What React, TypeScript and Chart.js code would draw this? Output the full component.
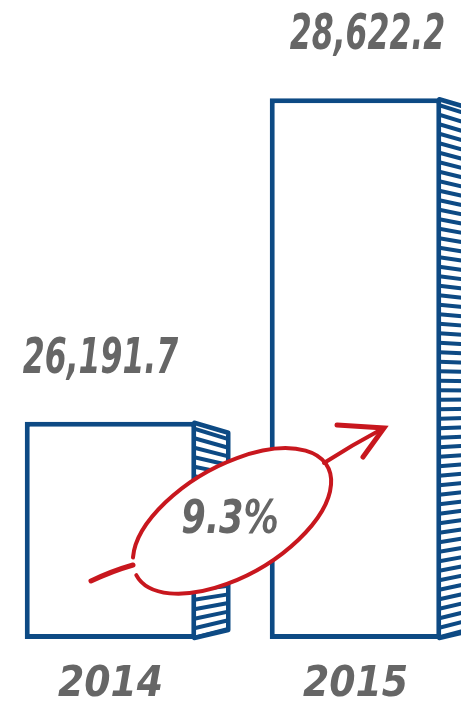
import React, { useEffect, useRef } from "react";
import { Chart, registerables } from "chart.js";

Chart.register(...registerables);

const categories = ["2014", "2015"];
const values = [26191.7, 28622.2];
const yBounds = [24560, 29360];

const BLUE = "#0d4a84";
const RED = "#c8171e";
const GRAY = "#666666";
const FONT = "'DejaVu Sans Condensed', 'Liberation Sans Narrow', sans-serif";

const fmt = (v: number) =>
  v.toLocaleString("en-US", { minimumFractionDigits: 1, maximumFractionDigits: 1 });

const growth = (((values[1] - values[0]) / values[0]) * 100).toFixed(1) + "%";

const sidePlugin = {
  id: "sideHatch",
  afterDatasetsDraw(chart: any) {
    const ctx = chart.ctx as CanvasRenderingContext2D;
    const meta = chart.getDatasetMeta(0);
    meta.data.forEach((bar: any) => {
      const { x, y, width, base } = bar.getProps(["x", "y", "width", "base"], true);
      const r = x + width / 2 - 2;
      const d = 34;
      const dropTop = 11;
      const riseBot = 9;
      ctx.save();
      ctx.beginPath();
      ctx.moveTo(r, y);
      ctx.lineTo(r + d, y + dropTop);
      ctx.lineTo(r + d, base - riseBot);
      ctx.lineTo(r, base);
      ctx.closePath();
      ctx.save();
      ctx.clip();
      ctx.strokeStyle = BLUE;
      ctx.lineWidth = 4;
      const h = base - y;
      for (let yy = y + 7; yy < base; yy += 9.5) {
        const t = (yy - y) / h;
        const slope = dropTop * (1 - t) - riseBot * t;
        ctx.beginPath();
        ctx.moveTo(r, yy);
        ctx.lineTo(r + d, yy + slope);
        ctx.stroke();
      }
      ctx.restore();
      ctx.strokeStyle = BLUE;
      ctx.lineWidth = 4.5;
      ctx.lineJoin = "round";
      ctx.lineCap = "round";
      ctx.beginPath();
      ctx.moveTo(r, y + 1);
      ctx.lineTo(r + d, y + dropTop);
      ctx.lineTo(r + d, base - riseBot);
      ctx.lineTo(r, base - 1);
      ctx.stroke();
      ctx.restore();
    });
  },
};

const labelPlugin = {
  id: "valueLabels",
  afterDatasetsDraw(chart: any) {
    const ctx = chart.ctx as CanvasRenderingContext2D;
    const meta = chart.getDatasetMeta(0);
    ctx.save();
    ctx.fillStyle = GRAY;
    ctx.font = `italic bold 50px ${FONT}`;
    ctx.textAlign = "center";
    ctx.textBaseline = "middle";
    meta.data.forEach((bar: any, i: number) => {
      ctx.save();
      ctx.translate(bar.x - 10 + i * 22, bar.y - 62);
      ctx.scale(0.7, 1);
      ctx.fillText(fmt(values[i]), 0, 0);
      ctx.restore();
    });
    ctx.restore();
  },
};

const growthPlugin = {
  id: "growthMark",
  afterDraw(chart: any) {
    const ctx = chart.ctx as CanvasRenderingContext2D;
    const xs = chart.scales.x;
    const ys = chart.scales.y;
    const cx = (xs.getPixelForValue(0) + xs.getPixelForValue(1)) / 2 - 1;
    const cy = ys.bottom - 118;
    const a = 110;
    const b = 55;
    const rot = (-30 * Math.PI) / 180;
    const deg = (v: number) => (v * Math.PI) / 180;
    ctx.save();
    ctx.beginPath();
    ctx.ellipse(cx, cy, a, b, rot, 0, Math.PI * 2);
    ctx.fillStyle = "#ffffff";
    ctx.fill();
    ctx.strokeStyle = RED;
    ctx.lineWidth = 4;
    ctx.lineCap = "round";
    ctx.beginPath();
    ctx.ellipse(cx, cy, a, b, rot, deg(199), deg(181 + 360));
    ctx.stroke();
    ctx.lineWidth = 5;
    ctx.beginPath();
    ctx.moveTo(cx - 141, cy + 60);
    ctx.quadraticCurveTo(cx - 120, cy + 50, cx - 99, cy + 44);
    ctx.stroke();
    ctx.lineWidth = 4;
    ctx.beginPath();
    ctx.moveTo(cx + 92, cy - 58);
    ctx.quadraticCurveTo(cx + 120, cy - 76, cx + 150, cy - 92);
    ctx.stroke();
    ctx.lineWidth = 5;
    ctx.beginPath();
    ctx.moveTo(cx + 105, cy - 96);
    ctx.lineTo(cx + 152, cy - 93);
    ctx.lineTo(cx + 131, cy - 64);
    ctx.stroke();
    ctx.fillStyle = GRAY;
    ctx.font = `italic bold 46px ${FONT}`;
    ctx.textAlign = "center";
    ctx.textBaseline = "middle";
    ctx.save();
    ctx.translate(cx - 2, cy);
    ctx.scale(0.85, 1);
    ctx.fillText(growth, 0, 0);
    ctx.restore();
    ctx.restore();
  },
};

export default function App() {
  const ref = useRef<HTMLCanvasElement | null>(null);
  useEffect(() => {
    if (!ref.current) return;
    const chart = new Chart(ref.current, {
      type: "bar",
      data: {
        labels: categories,
        datasets: [
          {
            data: values,
            base: yBounds[0],
            backgroundColor: "#ffffff",
            borderColor: BLUE,
            borderWidth: 5,
            borderSkipped: false,
            barPercentage: 0.7,
            categoryPercentage: 1,
          },
        ],
      },
      options: {
        animation: false,
        responsive: true,
        maintainAspectRatio: false,
        layout: { padding: 0 },
        plugins: { legend: { display: false }, tooltip: { enabled: false } },
        scales: {
          x: {
            grid: { display: false, drawTicks: false },
            border: { display: false },
            ticks: {
              color: GRAY,
              padding: 25,
              font: { family: FONT, size: 42, style: "italic", weight: "bold", lineHeight: 1 },
            },
          },
          y: {
            display: false,
            min: yBounds[0],
            max: yBounds[1],
          },
        },
      },
      plugins: [sidePlugin, labelPlugin, growthPlugin],
    });
    return () => chart.destroy();
  }, []);
  return (
    <div
      style={{
        position: "absolute",
        left: 0,
        top: 0,
        width: 461,
        height: 707,
        overflow: "hidden",
        background: "#fff",
      }}
    >
      <div style={{ position: "absolute", left: -12, top: 0, width: 490, height: 731 }}>
        <canvas ref={ref} />
      </div>
    </div>
  );
}
